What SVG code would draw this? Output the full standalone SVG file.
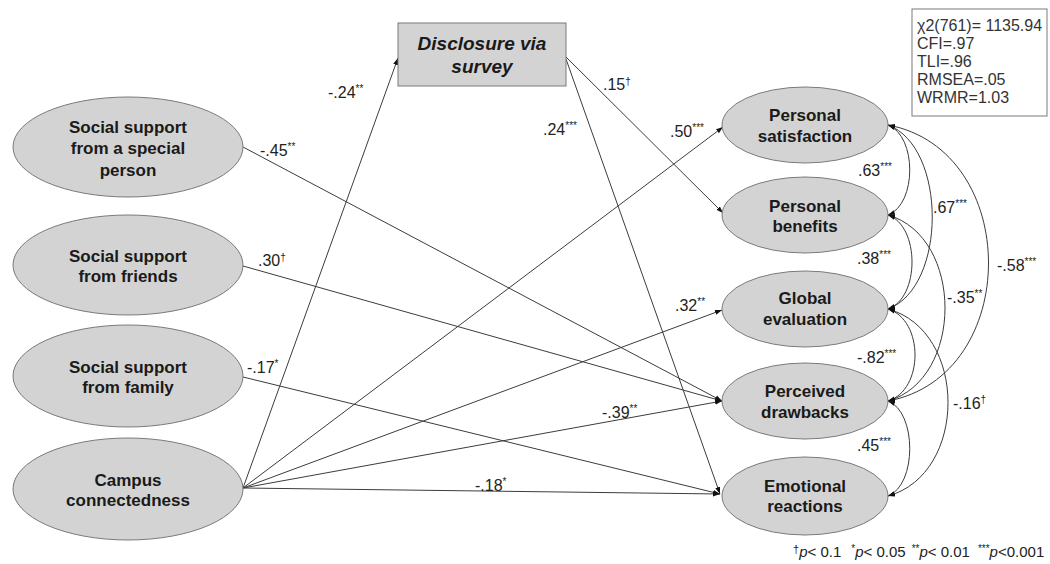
<svg xmlns="http://www.w3.org/2000/svg" width="1050" height="564" viewBox="0 0 1050 564">
<style>
  .node ellipse, .node rect { fill: #d3d3d3; stroke: #7a7a7a; stroke-width: 1; }
  .nt { font-family: "Liberation Sans", Arial, sans-serif; font-size: 17px; font-weight: bold; fill: #1a1a1a; text-anchor: middle; }
  .dt { font-family: "Liberation Sans", Arial, sans-serif; font-size: 19px; font-weight: bold; font-style: italic; fill: #1a1a1a; text-anchor: middle; }
  .path { fill: none; stroke: #3c3c3c; stroke-width: 1; }
  .lab { font-family: "Liberation Sans", Arial, sans-serif; font-size: 16px; fill: #222; }
  .sup { font-size: 10px; }
  .fit { font-family: "Liberation Sans", Arial, sans-serif; font-size: 16px; fill: #333; }
  .leg { font-family: "Liberation Sans", Arial, sans-serif; font-size: 15px; fill: #222; }
</style>
<defs>
  <marker id="ah" markerUnits="userSpaceOnUse" markerWidth="7" markerHeight="6" refX="7" refY="3" orient="auto-start-reverse">
    <path d="M0,0.5 L7,3 L0,5.5 z" fill="#111"/>
  </marker>
</defs>

<g id="connectors">
  <!-- regression paths -->
  <path class="path" d="M243,488 L398,58" marker-end="url(#ah)"/>
  <path class="path" d="M566,57 L723,213" marker-end="url(#ah)"/>
  <path class="path" d="M566,59 L720,494" marker-end="url(#ah)"/>
  <path class="path" d="M243,147 L722,401" marker-end="url(#ah)"/>
  <path class="path" d="M243,266 L722,401" marker-end="url(#ah)"/>
  <path class="path" d="M243,377 L720,494" marker-end="url(#ah)"/>
  <path class="path" d="M243,488 L723,127" marker-end="url(#ah)"/>
  <path class="path" d="M243,488 L722,310" marker-end="url(#ah)"/>
  <path class="path" d="M243,488 L722,401" marker-end="url(#ah)"/>
  <path class="path" d="M243,488 L720,494" marker-end="url(#ah)"/>
  <!-- correlations -->
  <path class="path" d="M888,125 C917,136 917,204 888,215" marker-start="url(#ah)" marker-end="url(#ah)"/>
  <path class="path" d="M888,215 C920,226 920,298 888,309" marker-start="url(#ah)" marker-end="url(#ah)"/>
  <path class="path" d="M888,309 C924,320 924,390 888,401" marker-start="url(#ah)" marker-end="url(#ah)"/>
  <path class="path" d="M888,401 C917,412 917,485 888,496" marker-start="url(#ah)" marker-end="url(#ah)"/>
  <path class="path" d="M888,125 C947,147 947,287 888,309" marker-start="url(#ah)" marker-end="url(#ah)"/>
  <path class="path" d="M888,215 C964,237 964,379 888,401" marker-start="url(#ah)" marker-end="url(#ah)"/>
  <path class="path" d="M888,309 C968,331 968,474 888,496" marker-start="url(#ah)" marker-end="url(#ah)"/>
  <path class="path" d="M888,125 C1022,150 1022,376 888,401" marker-start="url(#ah)" marker-end="url(#ah)"/>
</g>

<g id="labels">
  <text class="lab" x="328" y="98">-.24<tspan class="sup" dy="-6">**</tspan></text>
  <text class="lab" x="603" y="90">.15<tspan class="sup" font-size="12" dy="-5">†</tspan></text>
  <text class="lab" x="543" y="135">.24<tspan class="sup" dy="-6">***</tspan></text>
  <text class="lab" x="670" y="137">.50<tspan class="sup" dy="-6">***</tspan></text>
  <text class="lab" x="260" y="156">-.45<tspan class="sup" dy="-6">**</tspan></text>
  <text class="lab" x="258" y="266">.30<tspan class="sup" font-size="12" dy="-5">†</tspan></text>
  <text class="lab" x="247" y="373">-.17<tspan class="sup" dy="-6">*</tspan></text>
  <text class="lab" x="675" y="311">.32<tspan class="sup" dy="-6">**</tspan></text>
  <text class="lab" x="602" y="418">-.39<tspan class="sup" dy="-6">**</tspan></text>
  <text class="lab" x="475" y="491">-.18<tspan class="sup" dy="-6">*</tspan></text>
  <text class="lab" x="858" y="176">.63<tspan class="sup" dy="-6">***</tspan></text>
  <text class="lab" x="933" y="213">.67<tspan class="sup" dy="-6">***</tspan></text>
  <text class="lab" x="997" y="271">-.58<tspan class="sup" dy="-6">***</tspan></text>
  <text class="lab" x="857" y="264">.38<tspan class="sup" dy="-6">***</tspan></text>
  <text class="lab" x="947" y="303">-.35<tspan class="sup" dy="-6">**</tspan></text>
  <text class="lab" x="857" y="363">-.82<tspan class="sup" dy="-6">***</tspan></text>
  <text class="lab" x="953" y="409">-.16<tspan class="sup" font-size="9" dy="-6">†</tspan></text>
  <text class="lab" x="857" y="451">.45<tspan class="sup" dy="-6">***</tspan></text>
</g>

<g id="disclosure" class="node">
  <rect x="398" y="23" width="168" height="63"/>
  <text class="dt" x="482" y="50">Disclosure via</text>
  <text class="dt" x="482" y="73">survey</text>
</g>

<g id="special" class="node">
  <ellipse cx="128" cy="147" rx="115" ry="50"/>
  <text class="nt" x="128" y="133">Social support</text>
  <text class="nt" x="128" y="154">from a special</text>
  <text class="nt" x="128" y="176">person</text>
</g>
<g id="friends" class="node">
  <ellipse cx="128" cy="265" rx="115" ry="50"/>
  <text class="nt" x="128" y="262">Social support</text>
  <text class="nt" x="128" y="282">from friends</text>
</g>
<g id="family" class="node">
  <ellipse cx="128" cy="376" rx="115" ry="51"/>
  <text class="nt" x="128" y="373">Social support</text>
  <text class="nt" x="128" y="393">from family</text>
</g>
<g id="campus" class="node">
  <ellipse cx="128" cy="489" rx="115" ry="51"/>
  <text class="nt" x="128" y="486">Campus</text>
  <text class="nt" x="128" y="506">connectedness</text>
</g>

<g id="satisfaction" class="node">
  <ellipse cx="805" cy="125" rx="83" ry="38"/>
  <text class="nt" x="805" y="121">Personal</text>
  <text class="nt" x="805" y="142">satisfaction</text>
</g>
<g id="benefits" class="node">
  <ellipse cx="805" cy="215" rx="83" ry="38"/>
  <text class="nt" x="805" y="212">Personal</text>
  <text class="nt" x="805" y="232">benefits</text>
</g>
<g id="global" class="node">
  <ellipse cx="805" cy="309" rx="83" ry="38"/>
  <text class="nt" x="805" y="304">Global</text>
  <text class="nt" x="805" y="325">evaluation</text>
</g>
<g id="drawbacks" class="node">
  <ellipse cx="805" cy="401" rx="83" ry="38"/>
  <text class="nt" x="805" y="397">Perceived</text>
  <text class="nt" x="805" y="418">drawbacks</text>
</g>
<g id="emotional" class="node">
  <ellipse cx="805" cy="496" rx="83" ry="39"/>
  <text class="nt" x="805" y="492">Emotional</text>
  <text class="nt" x="805" y="512">reactions</text>
</g>

<g id="fitbox">
  <rect x="912" y="9" width="135" height="107" fill="#fff" stroke="#7a7a7a" stroke-width="1"/>
  <text class="fit" x="917" y="31">χ2(761)= 1135.94</text>
  <text class="fit" x="917" y="49">CFI=.97</text>
  <text class="fit" x="917" y="67">TLI=.96</text>
  <text class="fit" x="917" y="85">RMSEA=.05</text>
  <text class="fit" x="917" y="103">WRMR=1.03</text>
</g>

<g id="legend">
  <text class="leg" x="793" y="557"><tspan font-size="11" dy="-4">†</tspan><tspan font-style="italic" dy="4">p</tspan>&lt; 0.1<tspan font-size="10" dx="10" dy="-5">*</tspan><tspan font-style="italic" dy="5">p</tspan>&lt; 0.05<tspan font-size="10" dx="6" dy="-5">**</tspan><tspan font-style="italic" dy="5">p</tspan>&lt; 0.01<tspan font-size="10" dx="8" dy="-5">***</tspan><tspan font-style="italic" dy="5">p</tspan>&lt;0.001</text>
</g>
</svg>
